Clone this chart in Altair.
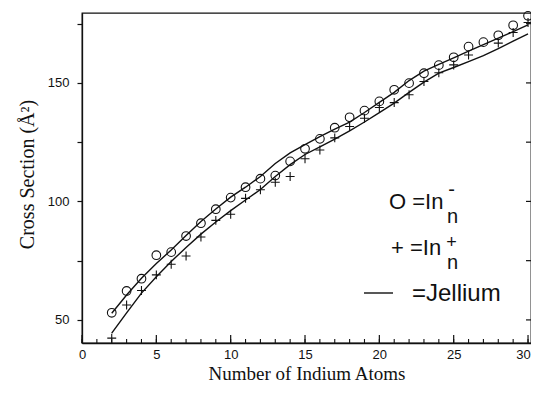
import altair as alt
import pandas as pd

# ---- data ----
n_anion = list(range(2, 31))
anion = [53, 62.2, 67.4, 77.3, 78.6, 85.4, 90.8, 96.7, 101.6, 106, 109.6, 110.9,
         116.9, 122.2, 126.4, 131.1, 135.5, 138.3, 142.2, 147.1, 149.9, 154.1,
         157.5, 160.8, 165.3, 167.2, 170.1, 174.3, 178.3]

n_cation = list(range(2, 27)) + [28, 29, 30]
cation = [42.3, 56.3, 62.4, 69, 73.5, 77, 85, 92, 94.6, 101.3, 104.9, 108.1,
          110.5, 118, 121.7, 126.8, 131.6, 135.1, 139.6, 141.7, 145, 150.6,
          154.3, 157.6, 161.8, 166.8, 171.3, 175.5]

n_jel = list(range(2, 31))
jel_upper = [52.8, 60.5, 67.6, 73.8, 79.5, 85.6, 91.5, 96.8, 101.8, 106, 110.5,
             116, 120.5, 124, 127.3, 130.5, 133.5, 137.5, 141.8, 146, 151, 155,
             157.8, 160.6, 163.4, 166.2, 168.9, 171.6, 174.5]
jel_lower = [44.4, 53, 61.3, 68.2, 74.6, 80.6, 86.2, 91.3, 96.1, 100.6, 105,
             110.5, 115.5, 119.8, 123, 126.3, 129.8, 133.5, 137.5, 141.5, 146,
             150.3, 154.1, 156.5, 159, 161.5, 164.5, 167.6, 170.7]

x_major = [0, 5, 10, 15, 20, 25, 30]
x_minor = list(range(0, 31))
y_ticks = [50, 75, 100, 125, 150, 175]

W, H = 449, 330
xs = alt.Scale(domain=[0, 30.2], nice=False, zero=False)
ys = alt.Scale(domain=[40.26, 179.5], nice=False, zero=False)

df_a = pd.DataFrame({"n": n_anion, "v": anion})
df_c = pd.DataFrame({"n": n_cation, "v": cation})
df_j = pd.concat([
    pd.DataFrame({"n": n_jel, "v": jel_upper, "s": "upper"}),
    pd.DataFrame({"n": n_jel, "v": jel_lower, "s": "lower"}),
])

sans = "Liberation Sans"
serif = "Liberation Serif"
ink = "#111111"

xaxis = alt.Axis(values=x_major, tickSize=0, labelPadding=5, labelFontSize=13,
                 labelFont=sans, labelColor=ink, labelFlush=False,
                 labelOffset={"condition": {"test": "datum.value == 30", "value": -5}, "value": 0},
                 grid=False, domainColor=ink, domainWidth=1.3,
                 title="Number of Indium Atoms",
                 titleFont=serif, titleFontSize=19, titleFontWeight="normal",
                 titleColor=ink, titleY=36, titleBaseline="alphabetic")
yaxis = alt.Axis(values=y_ticks, tickSize=5, tickColor=ink, tickWidth=1.2,
                 labelExpr="datum.value % 50 == 0 ? datum.label : ''",
                 labelPadding=8, labelFontSize=13, labelFont=sans, labelColor=ink,
                 labelFlush=False, grid=False, domainColor=ink, domainWidth=1.3,
                 title="Cross Section (Å²)", titleFont=serif, titleFontSize=20,
                 titleFontWeight="normal", titleColor=ink, titleAngle=270,
                 titleX=-49, titleY=161, titleAlign="center",
                 titleBaseline="alphabetic")

lines = alt.Chart(df_j).mark_line(color=ink, strokeWidth=1.4).encode(
    x=alt.X("n:Q", scale=xs, axis=xaxis),
    y=alt.Y("v:Q", scale=ys, axis=yaxis),
    detail="s:N",
)

circles = alt.Chart(df_a).mark_point(shape="circle", filled=False, color=ink,
                                     size=75, strokeWidth=1.1, opacity=1).encode(
    x=alt.X("n:Q", scale=xs), y=alt.Y("v:Q", scale=ys))

crosses = alt.Chart(df_c).mark_point(shape="M-1,0L1,0M0,-1L0,1", filled=False,
                                     color=ink, size=80, strokeWidth=1.1,
                                     opacity=1).encode(
    x=alt.X("n:Q", scale=xs), y=alt.Y("v:Q", scale=ys))

maj = alt.Chart(pd.DataFrame({"t": x_major})).mark_rule(color=ink, strokeWidth=1.2).encode(
    x=alt.X("t:Q", scale=xs), y=alt.value(H), y2=alt.value(H - 8))
mino = alt.Chart(pd.DataFrame({"t": x_minor})).mark_rule(color=ink, strokeWidth=1.1).encode(
    x=alt.X("t:Q", scale=xs), y=alt.value(H), y2=alt.value(H - 4))
rticks = alt.Chart(pd.DataFrame({"t": y_ticks})).mark_rule(color=ink, strokeWidth=1.2).encode(
    y=alt.Y("t:Q", scale=ys), x=alt.value(W), x2=alt.value(W - 5))


def txt(s, x, y, size, align="left"):
    return alt.Chart(pd.DataFrame({"s": [s]})).mark_text(
        font=sans, fontSize=size, color=ink, align=align, baseline="alphabetic"
    ).encode(text="s:N", x=alt.value(x), y=alt.value(y))


legend = [
    txt("O =In", 307, 196, 22),
    txt("n", 365, 210, 20),
    txt("-", 369.5, 183, 20, "center"),
    txt("+ =In", 309, 242, 22),
    txt("n", 365, 256, 20),
    txt("+", 369.5, 235, 18, "center"),
    txt("=Jellium", 330, 288, 24),
    alt.Chart(pd.DataFrame({"s": [0]})).mark_rule(color=ink, strokeWidth=1.4).encode(
        x=alt.value(282), x2=alt.value(311), y=alt.value(280)),
]

chart = alt.layer(lines, circles, crosses, maj, mino, rticks, *legend).properties(
    width=W, height=H,
    autosize=alt.AutoSizeParams(type="none"),
    padding={"left": 74, "top": 5, "right": 0, "bottom": 41},
    background="white",
).configure_view(stroke=ink, strokeWidth=1.3)

chart.save("out.html", embed_options={"renderer": "svg", "actions": False})
